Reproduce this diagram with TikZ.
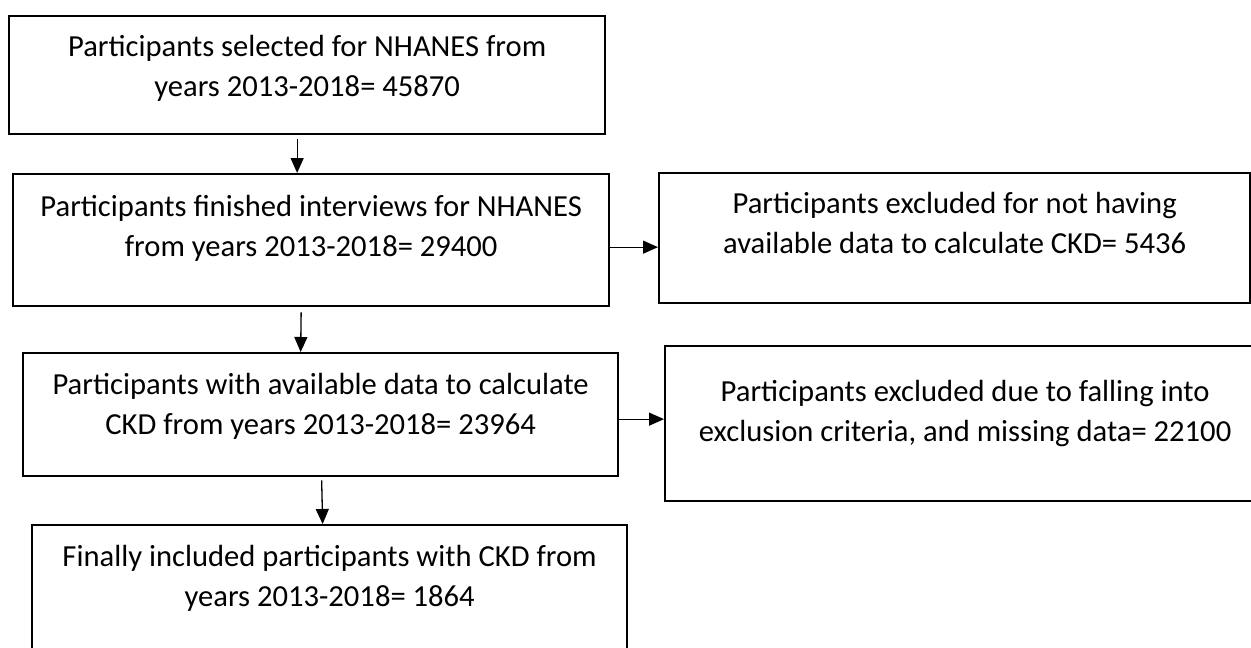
\documentclass[tikz,border=0pt]{standalone}
\usepackage{fontspec}
\setmainfont{Carlito}
\usepackage{tikz}
\usetikzlibrary{arrows.meta}

\begin{document}
\begin{tikzpicture}[
        x=0.5pt, y=-0.5pt,
        box/.style={rectangle, draw=black, line width=1.15pt, align=center, anchor=north west, inner sep=0pt, text height=32pt, font=\fontsize{15.3}{20}\selectfont},
        arrow/.style={-{Triangle[length=7.5pt, width=6.5pt]}, line width=0.65pt, black}
    ]
    \useasboundingbox (0,0) rectangle (1251,647);
    \clip (0,0) rectangle (1251,647);

    \node[box, minimum width=298pt, minimum height=59pt, text depth=11pt] (sel) at (8,15) {Participants selected for NHANES from\\years 2013-2018= 45870};
    \node[box, minimum width=298pt, minimum height=66pt, text depth=16pt] (fin) at (12,173) {Participants finished interviews for NHANES\\from years 2013-2018= 29400};
    \node[box, minimum width=295.5pt, minimum height=65pt, text depth=17pt] (excl) at (658,172) {Participants excluded for not having\\available data to calculate CKD= 5436};
    \node[box, minimum width=297.5pt, minimum height=61.5pt, text depth=12.5pt] (avail) at (22,352) {Participants with available data to calculate\\CKD from years 2013-2018= 23964};
    \node[box, minimum width=300pt, minimum height=77.5pt, text depth=14.5pt] (crit) at (664,345) {Participants excluded due to falling into\\exclusion criteria, and missing data= 22100};
    \node[box, minimum width=297.5pt, minimum height=80pt, text depth=31pt] (incl) at (31,524) {Finally included participants with CKD from\\years 2013-2018= 1864};

    \draw[arrow] ([xshift=-5pt, yshift=-2pt]sel.south) -- ([xshift=-7pt]fin.north);
    \draw[arrow] ([xshift=-5pt, yshift=-2.5pt]fin.south) -- ([xshift=-10pt]avail.north);
    \draw[arrow] ([xshift=0.5pt, yshift=-1.5pt]avail.south) -- ([xshift=-3.5pt]incl.north);

    \draw[arrow] ([yshift=-3.5pt]fin.east) -- ([yshift=-4.5pt]excl.west);
    \draw[arrow] ([yshift=-2.25pt]avail.east) -- ([yshift=2.25pt]crit.west);

\end{tikzpicture}
\end{document}
